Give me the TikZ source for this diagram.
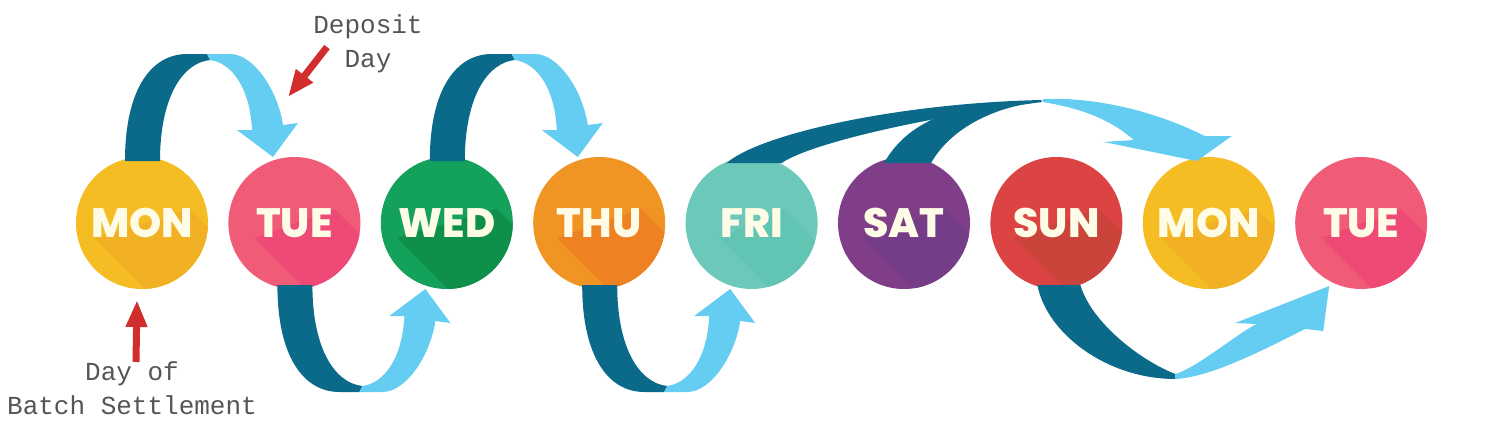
\documentclass[tikz,border=0pt]{standalone}
\usepackage{fontspec}
\newfontfamily\dayfont{Poppins ExtraBold}
\newfontfamily\handfont{Liberation Mono}
\usetikzlibrary{positioning,arrows.meta}

\definecolor{ribbondark}{HTML}{0B6A8A}
\definecolor{ribbonlight}{HTML}{66CDF2}
\definecolor{cream}{HTML}{FEFCE6}
\definecolor{notered}{HTML}{D22D2D}
\definecolor{notegray}{HTML}{555555}
\definecolor{monbg}{HTML}{F5BD23}\definecolor{monsh}{HTML}{F2B124}
\definecolor{tuebg}{HTML}{F05C77}\definecolor{tuesh}{HTML}{EE4A75}
\definecolor{wedbg}{HTML}{14A15B}\definecolor{wedsh}{HTML}{0F904A}
\definecolor{thubg}{HTML}{F09424}\definecolor{thush}{HTML}{EE8121}
\definecolor{fribg}{HTML}{6CC8B8}\definecolor{frish}{HTML}{62C4B2}
\definecolor{satbg}{HTML}{7F3E87}\definecolor{satsh}{HTML}{753D88}
\definecolor{sunbg}{HTML}{DC4343}\definecolor{sunsh}{HTML}{CB443C}

\tikzset{
  day/.style n args={3}{circle, minimum size=132pt, inner sep=0pt, fill=#1, text=cream,
    font=\dayfont\fontsize{41}{41}\selectfont,
    path picture={\fill[#2] ([xshift=-#3pt,yshift=-15pt]path picture bounding box.center)
      -- ([xshift=#3pt,yshift=14pt]path picture bounding box.center)
      -- ([xshift=#3pt+130pt,yshift=-116pt]path picture bounding box.center)
      -- ([xshift=-#3pt+130pt,yshift=-145pt]path picture bounding box.center) -- cycle;}},
  darkband/.style={fill=ribbondark},
  lightband/.style={fill=ribbonlight},
  notetext/.style={text=notegray, align=center, inner sep=0pt,
    font=\handfont\fontsize{26}{34}\selectfont},
  notearrow/.style={draw=notered, line width=7pt, -{Triangle[length=27pt,width=20pt]}},
  hop/.pic={
    \fill[darkband] (-17,-62) .. controls (-17,-135) and (10,-169) .. (45,-169) -- (65,-169)
      -- (68,-163) .. controls (40,-160) and (18,-125) .. (18,-62) -- cycle;
    \fill[lightband] (65,-169) -- (88,-169) .. controls (112,-169) and (136,-132) .. (141,-98)
      -- (156,-100) -- (131,-66) -- (95,-93) -- (110,-93)
      .. controls (108,-135) and (90,-160) .. (68,-163) -- cycle;
  }
}

\begin{document}
\begin{tikzpicture}[x=1pt,y=-1pt,node distance=20pt]
  \useasboundingbox (0,0) rectangle (1500,434);

  % the days
  \node[day={monbg}{monsh}{48}] (mon) at (142,223) {MON};
  \node[day={tuebg}{tuesh}{40}, right=of mon] (tue) {TUE};
  \node[day={wedbg}{wedsh}{50}, right=of tue] (wed) {WED};
  \node[day={thubg}{thush}{42}, right=of wed] (thu) {THU};
  \node[day={fribg}{frish}{32}, right=of thu] (fri) {FRI};
  \node[day={satbg}{satsh}{40}, right=of fri] (sat) {SAT};
  \node[day={sunbg}{sunsh}{42}, right=of sat] (sun) {SUN};
  \node[day={monbg}{monsh}{48}, right=of sun] (mon2) {MON};
  \node[day={tuebg}{tuesh}{40}, right=of mon2] (tue2) {TUE};

  % one day hops
  \pic at (mon.center) {hop};
  \pic[yscale=-1] at (tue.center) {hop};
  \pic at (wed.center) {hop};
  \pic[yscale=-1] at (thu.center) {hop};

  % weekend
  \begin{scope}[shift={(fri.center)}]
    \fill[darkband] (-25,-60) .. controls (10,-90) and (150,-120) .. (290,-123) -- (290,-121)
      .. controls (170,-105) and (60,-80) .. (30,-60) -- cycle;
  \end{scope}
  \begin{scope}[shift={(sat.center)}]
    \fill[darkband] (-20,-60) .. controls (0,-95) and (40,-122) .. (137,-122) -- (137,-121)
      .. controls (100,-118) and (50,-100) .. (27,-60) -- cycle;
  \end{scope}
  \begin{scope}[shift={(mon2.center)}]
    \fill[lightband] (-166,-124) .. controls (-120,-126) and (-60,-115) .. (-4,-87) -- (23,-87)
      -- (-12,-62) -- (-105,-81) -- (-75,-83)
      .. controls (-100,-105) and (-130,-115) .. (-166,-121) -- cycle;
  \end{scope}
  \begin{scope}[shift={(sun.center)}]
    \fill[darkband] (-19,62) .. controls (-10,110) and (50,156) .. (119,156) -- (119,151)
      .. controls (85,138) and (35,100) .. (24,62) -- cycle;
  \end{scope}
  \begin{scope}[shift={(tue2.center)}]
    \fill[lightband] (-186,156) .. controls (-150,154) and (-100,128) .. (-56,106) -- (-38,108)
      -- (-32,63) -- (-126,100) -- (-105,101)
      .. controls (-130,115) and (-165,145) .. (-186,151) -- cycle;
  \end{scope}

  % notes
  \node[notetext] (deposit) at (368,44) {Deposit\\Day};
  \node[notetext] (batch) at (132,388) {Day of\\Batch Settlement};
  \coordinate (deptail) at (327,47);
  \coordinate (deptip) at (288,97);
  \coordinate (battail) at (136,362);
  \coordinate (battip) at (137,300);
  \draw[notearrow] (deptail) -- (deptip);
  \draw[notearrow] (battail) -- (battip);
\end{tikzpicture}
\end{document}
